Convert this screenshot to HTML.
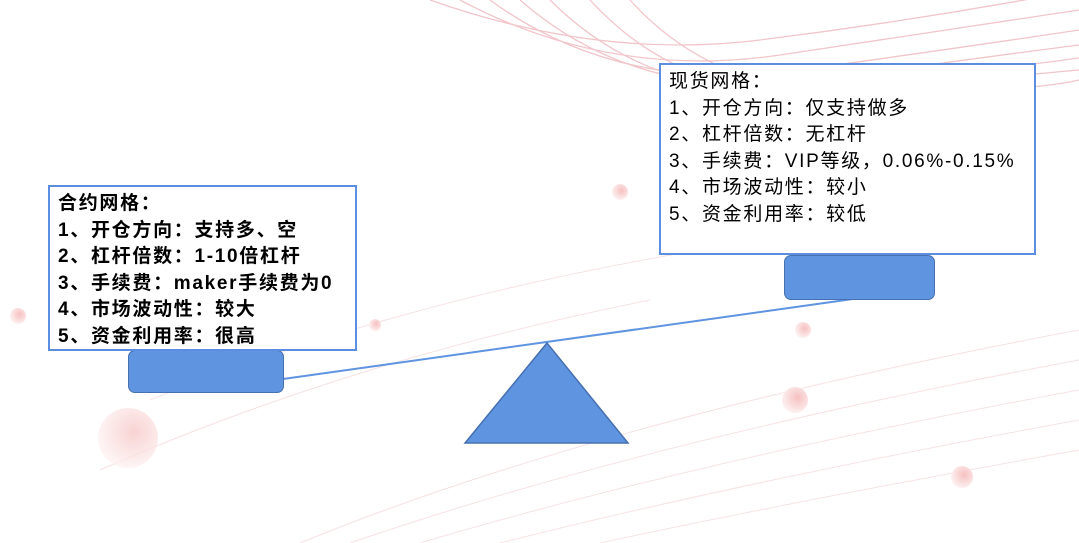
<!DOCTYPE html>
<html><head><meta charset="utf-8"><style>
body{margin:0;width:1079px;height:543px;overflow:hidden;background:#fff;position:relative;font-family:"Liberation Sans","Noto Sans CJK SC",sans-serif}
.box{position:absolute;background:#fff;border:2px solid #5b8ee0;box-sizing:border-box;font-size:19px;line-height:26.6px;color:#000;padding:4px 0 0 8px;white-space:nowrap;letter-spacing:1.7px}
.r{position:absolute;background:#5f94e0;border:1.5px solid #4670b0;border-radius:7px;box-sizing:border-box}
</style></head><body>
<svg width="1079" height="543" style="position:absolute;left:0;top:0">
<defs><radialGradient id="g" cx="0.6" cy="0.4" r="0.6"><stop offset="0" stop-color="#f6c0c0"/><stop offset="1" stop-color="#fdf0f0"/></radialGradient></defs>
<g fill="none" stroke="#e8a0a8" stroke-width="1.3" opacity="0.6">
<path d="M430 0 Q600 60 760 40 T1079 -10"/>
<path d="M460 0 Q610 80 780 55 T1079 10"/>
<path d="M490 0 Q620 95 800 70 T1079 30"/>
<path d="M520 0 Q640 105 820 80 T1079 45"/>
<path d="M550 0 Q660 110 840 88 T1079 58"/>
<path d="M590 0 Q690 110 860 92 T1079 70"/>
<path d="M630 0 Q720 100 880 95 T1079 80"/>
</g>
<g fill="none" stroke="#f3d6d8" stroke-width="1" opacity="0.7">
<path d="M300 543 Q600 420 1079 330"/>
<path d="M350 543 Q650 440 1079 360"/>
<path d="M420 543 Q700 460 1079 390"/>
<path d="M500 543 Q750 480 1079 420"/>
<path d="M600 543 Q800 500 1079 450"/>
<path d="M150 400 Q400 300 700 250"/>
<path d="M100 470 Q350 360 650 300"/>
</g>
<circle cx="128" cy="438" r="30" fill="url(#g)" opacity="0.7"/>
<circle cx="795" cy="400" r="13" fill="url(#g)"/>
<circle cx="962" cy="477" r="11" fill="url(#g)"/>
<circle cx="620" cy="192" r="8" fill="url(#g)"/>
<circle cx="803" cy="330" r="8" fill="url(#g)"/>
<circle cx="18" cy="316" r="8" fill="url(#g)"/>
<circle cx="375" cy="325" r="6" fill="url(#g)"/>
<line x1="283" y1="379" x2="860" y2="298" stroke="#5f94e0" stroke-width="2"/>
<polygon points="547,343 465,443 628,443" fill="#5f94e0" stroke="#4670b0" stroke-width="1.5"/>
</svg>
<div class="r" style="left:128px;top:350px;width:156px;height:43px"></div>
<div class="r" style="left:784px;top:255px;width:151px;height:45px"></div>
<div class="box" style="left:48px;top:185px;width:309px;height:166px;font-weight:bold">合约网格：<br>1、开仓方向：支持多、空<br>2、杠杆倍数：1-10倍杠杆<br>3、手续费：maker手续费为0<br>4、市场波动性：较大<br>5、资金利用率：很高</div>
<div class="box" style="left:659px;top:63px;width:377px;height:192px">现货网格：<br>1、开仓方向：仅支持做多<br>2、杠杆倍数：无杠杆<br>3、手续费：VIP等级，0.06%-0.15%<br>4、市场波动性：较小<br>5、资金利用率：较低</div>
</body></html>
